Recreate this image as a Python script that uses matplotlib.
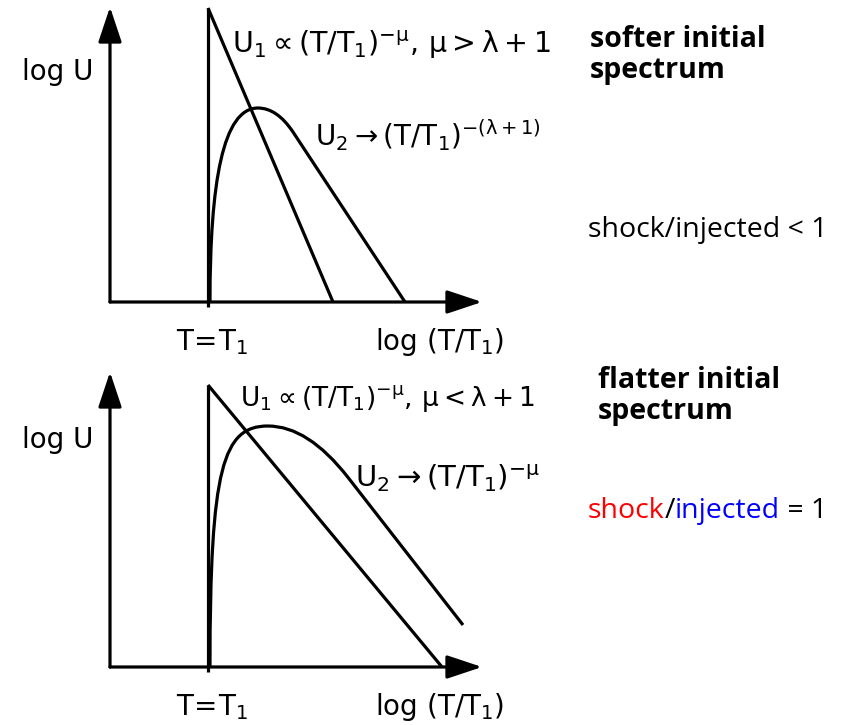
import matplotlib
matplotlib.use("Agg")
import matplotlib.pyplot as plt
from matplotlib.path import Path
from matplotlib.patches import PathPatch

plt.rcParams["mathtext.fontset"] = "dejavusans"

W, H = 856, 725

# ---- upper panel: softer initial spectrum (log units, origin at T = T1) ----
top_u1_x = [0.0, 1.25]
top_u1_y = [2.94, 0.0]
# U2 outline: cubic rise, rounded top, straight power-law tail
top_u2_x = [0.02, 0.02, 0.15, 0.50, 0.69, 0.85, 1.97]
top_u2_y = [0.0, 1.20, 1.94, 1.94, 1.94, 1.70, 0.0]
top_vline_top = 2.94
top_axis_x = -0.98
top_yaxis_tip = 2.95
top_xaxis_tip = 2.74

# ---- lower panel: flatter initial spectrum ----
bot_u1_x = [0.0, 2.34]
bot_u1_y = [2.82, 0.0]
bot_u2_x = [0.02, 0.02, 0.15, 0.60, 1.00, 1.40, 2.55]
bot_u2_y = [0.0, 2.00, 2.41, 2.41, 2.41, 1.896, 0.42]
bot_vline_top = 2.82
bot_axis_x = -0.98
bot_yaxis_tip = 2.95
bot_xaxis_tip = 2.74

# path codes for the U2 outline: cubic, quadratic, straight segment
u2_codes = [Path.MOVETO, Path.CURVE4, Path.CURVE4, Path.CURVE4,
            Path.CURVE3, Path.CURVE3, Path.LINETO]

top_u1_label = r"$\mathregular{U_1 \propto (T/T_1)^{-\mu},\,\mu > \lambda+1}$"
top_u2_label = r"$\mathregular{U_2 \rightarrow (T/T_1)^{-(\lambda+1)}}$"
bot_u1_label = r"$\mathregular{U_1 \propto (T/T_1)^{-\mu},\,\mu < \lambda+1}$"
bot_u2_label = r"$\mathregular{U_2 \rightarrow (T/T_1)^{-\mu}}$"
ylabel_text = "log U"
xlabel_text = r"$\mathregular{log\ (T/T_1)}$"
t1_text = r"$\mathregular{T\!=\!T_1}$"

fig = plt.figure(figsize=(W / 100, H / 100), dpi=100)
fig.patch.set_facecolor("white")

LW = 2.3
ink = "black"
lab_fs = 20


def panel(rect, ylim, u1x, u1y, u2x, u2y, vtop, ax_x, ytip, xtip,
          u1_label, u1_pos, u1_fs, u2_label, u2_pos, u2_fs):
    ax = fig.add_axes(rect)
    ax.set_xlim(-2.08, 3.52)
    ax.set_ylim(*ylim)
    ax.axis("off")
    arrow = dict(arrowstyle="-|>,head_length=1.08,head_width=0.36",
                 mutation_scale=20, lw=LW, color=ink, shrinkA=0, shrinkB=0)
    # axes with arrow heads
    ax.annotate("", xy=(ax_x, ytip), xytext=(ax_x, 0), arrowprops=arrow)
    ax.annotate("", xy=(xtip, 0), xytext=(ax_x, 0), arrowprops=arrow)
    # T = T1 marker line
    ax.plot([0, 0], [-0.05, vtop], color=ink, lw=LW, solid_capstyle="butt")
    ax.plot(u1x, u1y, color=ink, lw=LW, solid_capstyle="butt")
    u2 = Path(list(zip(u2x, u2y)), u2_codes)
    ax.add_patch(PathPatch(u2, facecolor="none", edgecolor=ink, lw=LW,
                           capstyle="butt"))
    ax.text(*u1_pos, u1_label, fontsize=u1_fs, ha="left", va="center")
    ax.text(*u2_pos, u2_label, fontsize=u2_fs, ha="left", va="center")
    return ax


top = panel([0, 1 - 360 / H, 560 / W, 360 / H], (-0.58, 3.02),
            top_u1_x, top_u1_y, top_u2_x, top_u2_y, top_vline_top,
            top_axis_x, top_yaxis_tip, top_xaxis_tip,
            top_u1_label, (0.24, 2.57), 20.5, top_u2_label, (1.07, 1.67), 20)
bot = panel([0, 0, 560 / W, 365 / H], (-0.58, 3.07),
            bot_u1_x, bot_u1_y, bot_u2_x, bot_u2_y, bot_vline_top,
            bot_axis_x, bot_yaxis_tip, bot_xaxis_tip,
            bot_u1_label, (0.32, 2.69), 19, bot_u2_label, (1.47, 1.89), 21)

top.text(-1.50, 2.30, ylabel_text, fontsize=lab_fs, ha="center", va="center")
bot.text(-1.50, 2.27, ylabel_text, fontsize=lab_fs, ha="center", va="center")
for ax in (top, bot):
    ax.text(0.04, -0.40, t1_text, fontsize=lab_fs, ha="center", va="center")
    ax.text(2.32, -0.40, xlabel_text, fontsize=lab_fs, ha="center", va="center")

# right-hand annotations
side_font = "Open Sans"
fs_side = 20.5
fig.text(590 / W, 1 - 55 / H, "softer initial\nspectrum", fontsize=fs_side,
         fontweight="bold", family=side_font, ha="left", va="center",
         linespacing=1.1)
fig.text(588 / W, 1 - 230 / H, "shock/injected < 1", fontsize=fs_side,
         family=side_font, ha="left", va="center")
fig.text(598 / W, 1 - 396 / H, "flatter initial\nspectrum", fontsize=fs_side,
         fontweight="bold", family=side_font, ha="left", va="center",
         linespacing=1.1)

# coloured ratio line, assembled piece by piece
parts = [("shock", "red"), ("/", "black"), ("injected", "blue"), (" = 1", "black")]
renderer = fig.canvas.get_renderer()
x0 = 588 / W
for s, c in parts:
    t = fig.text(x0, 1 - 511 / H, s, fontsize=fs_side, family=side_font,
                 color=c, ha="left", va="center")
    bb = t.get_window_extent(renderer=renderer)
    x0 += bb.width / W

fig.savefig("out.png", dpi=100, facecolor="white")
